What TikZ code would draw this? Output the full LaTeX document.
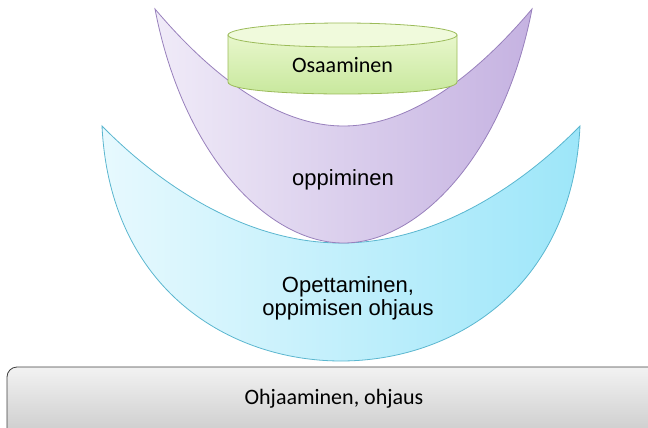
\documentclass[tikz,border=0pt]{standalone}
\usepackage{fontspec}
\setmainfont{Liberation Sans}
\newfontfamily\calibri{Carlito}
\usetikzlibrary{shapes.geometric, positioning, calc}

\definecolor{greenline}{HTML}{9BBB59}
\definecolor{greentop}{HTML}{F0FADC}
\definecolor{greenA}{HTML}{E8F7CC}
\definecolor{greenB}{HTML}{C6E79A}
\definecolor{purpleline}{HTML}{9880BC}
\definecolor{purpleA}{HTML}{F0EBF8}
\definecolor{purpleB}{HTML}{C5B2E1}
\definecolor{cyanline}{HTML}{5AB6CF}
\definecolor{cyanA}{HTML}{E7F9FE}
\definecolor{cyanB}{HTML}{9DE6F9}
\definecolor{greyA}{HTML}{F2F2F2}
\definecolor{greyB}{HTML}{C4C4C4}

\begin{document}
\begin{tikzpicture}[x=1pt, y=-1pt, line width=0.8pt,
    big/.style={font=\fontsize{22}{23}\selectfont, align=center, inner sep=0pt},
    cal/.style={font=\calibri\fontsize{22}{23}\selectfont, inner sep=0pt}]
\useasboundingbox (0,0) rectangle (648,428);
\clip (0,0) rectangle (648,428);

% Ohjaus: the base box
\draw[rounded corners=10pt, draw=black!75, top color=greyA, bottom color=greyB]
    (7,367) rectangle (668,450);
\node[cal, anchor=base] (ohjaus) at (334,404) {Ohjaaminen, ohjaus};

% Opettaminen: cyan crescent
\draw[cyanline, left color=cyanA, right color=cyanB]
    (102,126) .. controls (110,290) and (230,361) .. (341,361)
    .. controls (452,361) and (572,290) .. (580,126)
    .. controls (517,190) and (432,243) .. (341,243)
    .. controls (250,243) and (165,190) .. cycle;
\node[big] (opettaminen) at (348,298) {Opettaminen,\\oppimisen ohjaus};

% Oppiminen: purple crescent
\draw[purpleline, left color=purpleA, right color=purpleB]
    (155,9) .. controls (183,155) and (268,243) .. (343.5,243)
    .. controls (419,243) and (504,155) .. (532,9)
    .. controls (472,80) and (407,126) .. (343.5,126)
    .. controls (280,126) and (215,80) .. cycle;
\node[big, anchor=base] (oppiminen) at (343,185) {oppiminen};

% Osaaminen: green cylinder
\draw[greenline, top color=greenA, bottom color=greenB]
    (228,35) -- (228,82) .. controls (228,98) and (457,98) .. (457,82) -- (457,35) -- cycle;
\draw[greenline, fill=greentop] (342.5,35) ellipse [x radius=114.5, y radius=12];
\node[cal, anchor=base] (osaaminen) at (342.5,73) {Osaaminen};
\end{tikzpicture}
\end{document}
